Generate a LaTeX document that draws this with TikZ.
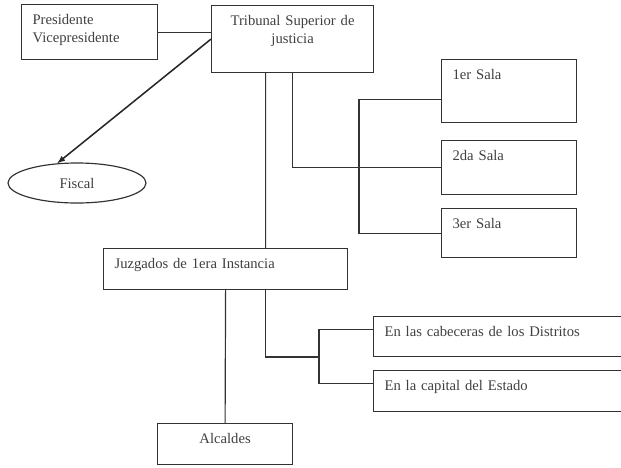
\documentclass[tikz,border=0pt]{standalone}
\usepackage{fontspec}
\setmainfont{Liberation Serif}
\usetikzlibrary{shapes.geometric}
\tikzset{
  box/.style={draw=black!80, line width=1pt, anchor=north west, inner xsep=0.33cm, inner ysep=0pt,
    text height=0.6cm, align=left, text=black!75, font=\fontsize{12.5}{15.3}\selectfont},
  link/.style={draw=black!80, line width=1pt}
}
\begin{document}
\begin{tikzpicture}[x=0.03cm, y=-0.03cm]
    \useasboundingbox (0,0) rectangle (621,467);
    \node (pres) [box, text width=3.42cm, text depth=1.05cm] at (21,4) {Presidente\\Vicepresidente};
    \node (trib) [box, text width=4.2cm, text depth=1.41cm, align=center] at (211,5) {Tribunal Superior de\\justicia};
    \node (fiscal) [draw=black!80, line width=1pt, ellipse, minimum width=4.14cm, minimum height=1.2cm,
      inner sep=0pt, text=black!75, font=\fontsize{12.5}{15.3}\selectfont] at (77,183) {Fiscal};
    \node (sala1) [box, text width=3.39cm, text depth=1.29cm] at (441,59) {1er Sala};
    \node (sala2) [box, text width=3.39cm, text depth=1.02cm] at (441,140) {2da Sala};
    \node (sala3) [box, text width=3.39cm, text depth=0.87cm] at (441,208) {3er Sala};
    \node (juzg) [box, text width=6.66cm, text depth=0.63cm] at (103,248) {Juzgados de 1era Instancia};
    \node (cab) [box, text width=7.35cm, text depth=0.6cm] at (373,316) {En las cabeceras de los Distritos};
    \node (cap) [box, text width=7.35cm, text depth=0.63cm] at (373,370) {En la capital del Estado};
    \node (alc) [box, text width=3.39cm, text depth=0.63cm, align=center] at (157,423) {Alcaldes};
    \coordinate (salabar) at (359,167);
    \coordinate (distbar) at (319,357);
    \draw[link] (pres.east) -- (pres.east -| trib.west);
    \draw[-latex, draw=black!85, line width=1.3pt] (trib.west) -- (fiscal.135);
    \draw[link] ([xshift=-0.81cm]trib.south) -- ([xshift=1.2cm]juzg.north);
    \draw[link] (trib.south) |- (sala2.west);
    \draw[link] ([yshift=-0.255cm]sala1.west) -| (salabar) |- (sala3.west);
    \draw[link] (juzg.south) -- (alc.north);
    \draw[link] ([xshift=1.2cm]juzg.south) |- (distbar);
    \draw[link] ([yshift=0.21cm]cab.west) -| (distbar) |- ([yshift=0.22cm]cap.west);
\end{tikzpicture}
\end{document}
